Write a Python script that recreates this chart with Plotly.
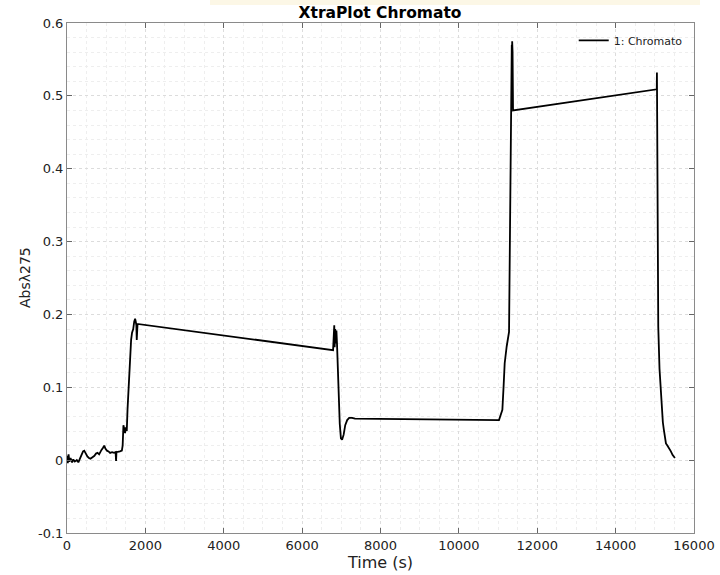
import plotly.graph_objects as go

# ---- data ----
time_s = [0, 20, 40, 60, 90, 130, 160, 200, 250, 290, 330, 370, 410, 440, 480, 520, 560, 600,
          650, 700, 740, 780, 820, 850, 880, 920, 950, 980, 1020, 1060, 1100, 1150, 1200, 1240,
          1252, 1262, 1300, 1350, 1400, 1420, 1440, 1460, 1482, 1500, 1525, 1545, 1567, 1590,
          1610, 1636, 1660, 1690, 1715, 1738, 1755, 1770, 1780, 1790, 1800,
          6790, 6800, 6810, 6820, 6830, 6845, 6860, 6875, 6890, 6905, 6930, 6960, 6990, 7020,
          7060, 7100, 7150, 7200, 7276, 7350,
          11024, 11060, 11110, 11140, 11169, 11220, 11280, 11305, 11325, 11340, 11345, 11350,
          11355, 11360, 11365, 11370, 11382,
          15050, 15054, 15058, 15071, 15088, 15120, 15150, 15180, 15205, 15230, 15260, 15284,
          15320, 15369, 15410, 15455, 15490, 15514]
abs_275 = [0.006, -0.004, 0.008, -0.002, 0.003, -0.003, 0.001, -0.002, 0.0, -0.003, 0.002, 0.008,
           0.012, 0.013, 0.008, 0.005, 0.003, 0.002, 0.004, 0.006, 0.009, 0.010, 0.008, 0.012,
           0.014, 0.017, 0.020, 0.016, 0.013, 0.012, 0.010, 0.011, 0.010, 0.011, -0.001, 0.011,
           0.011, 0.012, 0.013, 0.020, 0.048, 0.040, 0.037, 0.045, 0.040, 0.070, 0.096, 0.120,
           0.137, 0.165, 0.175, 0.180, 0.190, 0.194, 0.190, 0.185, 0.165, 0.185, 0.187,
           0.151, 0.175, 0.160, 0.185, 0.155, 0.180, 0.160, 0.178, 0.160, 0.130, 0.090, 0.050,
           0.030, 0.028, 0.035, 0.048, 0.055, 0.058, 0.058, 0.057,
           0.055, 0.060, 0.069, 0.100, 0.133, 0.156, 0.176, 0.316, 0.440, 0.520, 0.480, 0.570,
           0.490, 0.575, 0.500, 0.560, 0.480,
           0.509, 0.532, 0.505, 0.320, 0.183, 0.125, 0.095, 0.064, 0.052, 0.042, 0.030, 0.023,
           0.020, 0.016, 0.012, 0.007, 0.004, 0.003]

x_ticks = [0, 2000, 4000, 6000, 8000, 10000, 12000, 14000, 16000]
x_tick_labels = ["0", "2000", "4000", "6000", "8000", "10000", "12000", "14000", "16000"]
y_ticks = [-0.1, 0, 0.1, 0.2, 0.3, 0.4, 0.5, 0.6]
y_tick_labels = ["-0.1", "0", "0.1", "0.2", "0.3", "0.4", "0.5", "0.6"]

FONT = "DejaVu Sans"

fig = go.Figure()
fig.add_trace(go.Scatter(
    x=time_s, y=abs_275, mode="lines", name="1: Chromato",
    line=dict(color="black", width=1.8),
))

axis_common = dict(
    showline=True, linecolor="#8a8a8a", linewidth=1, mirror="allticks",
    ticks="inside", ticklen=5, tickcolor="#666666", zeroline=False,
    showgrid=True, gridcolor="#dcdcdc", griddash="dot", gridwidth=1,
    tickfont=dict(family=FONT, size=13, color="#222222"), automargin=False,
)

fig.update_xaxes(
    range=[0, 16000], tickvals=x_ticks, ticktext=x_tick_labels,
    minor=dict(dtick=500, showgrid=True, gridcolor="#eeeeee", gridwidth=1, ticks=""),
    **axis_common,
)
fig.update_yaxes(
    range=[-0.1, 0.6], tickvals=y_ticks, ticktext=y_tick_labels,
    minor=dict(dtick=0.02, showgrid=True, gridcolor="#eeeeee", gridwidth=1, ticks=""),
    **axis_common,
)

fig.update_layout(
    width=720, height=575,
    margin=dict(l=67, r=26, t=23, b=42),
    paper_bgcolor="white", plot_bgcolor="white",
    font=dict(family=FONT, color="#222222"),
    title=dict(text="<b>XtraPlot Chromato</b>", x=380 / 720, xref="container",
               xanchor="center", y=1 - 13 / 575, yanchor="middle",
               font=dict(family=FONT, size=15.5, color="black")),
    showlegend=True,
    legend=dict(x=0.99, y=0.966, xanchor="right", yanchor="middle",
                bgcolor="rgba(0,0,0,0)", borderwidth=0,
                font=dict(family=FONT, size=11, color="#222222")),
    annotations=[
        dict(text="Time (s)", xref="paper", yref="paper",
             x=(380 - 67) / 627, y=-(562 - 533) / 510, xanchor="center", yanchor="middle",
             showarrow=False, font=dict(family=FONT, size=16, color="#222222")),
        dict(text="Absλ275", xref="paper", yref="paper", textangle=-90,
             x=-(67 - 25) / 627, y=(533 - 278) / 510, xanchor="center", yanchor="middle",
             showarrow=False, font=dict(family=FONT, size=14, color="#222222")),
    ],
    shapes=[
        dict(type="rect", xref="paper", yref="paper", layer="below",
             x0=(210 - 67) / 627, x1=(700 - 67) / 627,
             y0=(533 - 5) / 510, y1=(533 + 1) / 510,
             fillcolor="#fcf7e6", line=dict(width=0)),
    ],
)

fig.write_html("out.html")
